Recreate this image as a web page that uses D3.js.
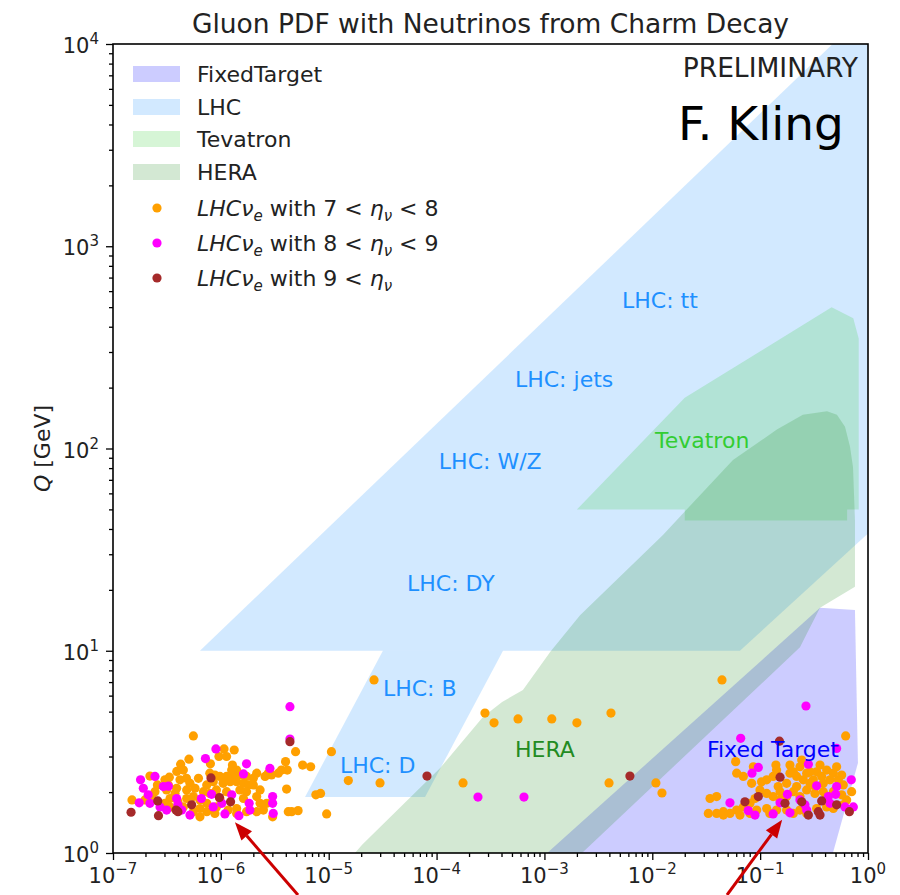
<!DOCTYPE html>
<html><head><meta charset="utf-8">
<script src="https://cdn.jsdelivr.net/npm/d3@7"></script>
<style>body{margin:0;background:#fff} svg{display:block} text{font-family:"DejaVu Sans",sans-serif}</style>
</head><body><svg id="c" width="900" height="895"></svg>
<script>
// ---------------- data ----------------
const X_DOMAIN = [1e-7, 1];
const Y_DOMAIN = [1, 1e4];
const xMajorExp = [-7, -6, -5, -4, -3, -2, -1, 0];
const yMajorExp = [0, 1, 2, 3, 4];
const title = "Gluon PDF with Neutrinos from Charm Decay";

// region polygons [x, Q]
const fixedTargetRegion = [[1.06e-3,1],[0.359,16.3],[0.757,15.9],[0.807,2.79],[0.473,1]];
const lhcRegion = [[6.4e-7,10],[0.47,1e4],[1,1e4],[1,38],[0.065,10]];
const lhcBDRegion = [[3.18e-5,10],[4.13e-4,10],[7.82e-5,1.89],[6.03e-6,1.89]];
const tevatronRegion = [[2.0e-3,50],[0.020,178],[0.46,500],[0.73,440],[0.82,350],[0.82,50],[0.64,50],[0.64,44],[0.020,44],[0.020,50]];
const heraRegion = [[1.75e-5,1],[2.04e-5,1.10],[1.08e-4,2.63],[2.69e-4,4.71],[4.05e-4,5.58],[6.32e-4,6.40],[1.13e-3,9.86],[2.14e-3,15.0],[0.01256,37.4],[0.056,87.8],[0.143,124],[0.249,147],[0.417,153],[0.515,147],[0.612,128],[0.681,102],[0.726,81],[0.757,44.3],[0.757,20.7],[0.359,16.3],[0.272,12.2],[0.234,10.4],[2.23e-3,1]];

// region labels [text, x, Q(baseline)]
const lhcLabels = [["LHC: tt",5.24e-3,496],["LHC: jets",5.33e-4,202],["LHC: W/Z",1.05e-4,79.3],["LHC: DY",5.32e-5,19.8],["LHC: B",3.18e-5,5.98],["LHC: D",1.27e-5,2.49]];
const heraLabel = ["HERA",5.33e-4,2.98];
const tevatronLabel = ["Tevatron",0.0106,101];
const fixedTargetLabel = ["Fixed Target",0.0321,2.98];

// LHCnu_e events, eta 7-8
const orangePts = [[5.56e-7,3.79],[1.07e-6,3.27],[1.33e-6,3.23],[9.6e-7,3.0],[1.13e-6,3.0],[5.06e-7,2.91],[4.24e-7,2.75],[8.0e-7,2.76],[1.28e-6,2.72],[1.40e-6,2.57],[5.73e-6,2.72],[6.8e-6,2.67],[4.93e-6,3.17],[3.98e-6,2.83],[3.65e-6,2.57],[4.13e-6,2.57],[3.41e-6,2.48],[2.15e-6,2.48],[2.57e-6,2.39],[2.95e-6,2.43],[2.0e-6,2.34],[1.73e-6,2.39],[1.50e-6,2.43],[1.30e-6,2.43],[1.13e-6,2.39],[9.8e-7,2.39],[8.8e-7,2.43],[6.2e-7,2.34],[4.8e-7,2.34],[3.9e-7,2.53],[3.33e-7,2.37],[3.03e-7,2.30],[2.2e-7,2.40],[2.58e-7,2.17],[3.14e-7,2.05],[3.89e-7,2.09],[4.82e-7,2.05],[5.76e-7,2.09],[7.4e-7,2.17],[8.5e-7,2.25],[1.05e-6,2.21],[1.22e-6,2.25],[1.40e-6,2.25],[1.62e-6,2.21],[2.0e-6,2.17],[2.31e-6,2.05],[1.50e-6,2.05],[1.13e-6,2.01],[9.1e-7,2.05],[6.9e-7,2.01],[5.56e-7,1.90],[4.82e-7,1.86],[3.38e-7,1.86],[2.45e-7,2.01],[1.5e-7,1.83],[1.98e-7,1.83],[2.28e-7,1.90],[3.76e-7,1.97],[6.4e-7,1.83],[7.4e-7,1.76],[9.1e-7,1.69],[1.40e-6,1.66],[1.62e-6,1.86],[2.15e-6,1.90],[2.31e-6,1.76],[2.66e-6,1.76],[2.48e-6,1.63],[2.15e-6,1.60],[1.73e-6,1.60],[1.40e-6,1.57],[1.17e-6,1.63],[8.8e-7,1.57],[7.4e-7,1.60],[6.4e-7,1.51],[6.4e-7,1.66],[5.56e-7,1.60],[4.49e-7,1.69],[3.38e-7,1.69],[3.03e-7,1.76],[4.22e-6,1.60],[5.2e-6,1.62],[4.53e-6,1.60],[4.07e-6,2.07],[3.02e-6,1.51],[9.57e-6,1.56],[7.6e-6,1.94],[8.4e-6,1.97],[1.06e-5,3.17],[1.52e-5,2.28],[7.9e-7,2.48],[4.49e-7,2.57],[4.18e-7,2.30],[3.26e-7,2.17],[5.17e-7,2.21],[1.26e-6,2.57],[1.8e-6,2.17],[2.75e-6,2.48],[7.9e-7,1.97],[1.73e-6,2.01],[9.8e-7,1.86],[4.0e-7,1.79],
[2.63e-5,7.17],[2.99e-5,2.22],[1.76e-4,2.22],[2.81e-4,4.92],[3.41e-4,4.40],[5.69e-4,4.6],[1.17e-3,4.6],[2.0e-3,4.40],[4.14e-3,4.92],[3.97e-3,2.22],[1.08e-2,2.22],[1.23e-2,1.98],[4.43e-2,7.17],
[0.621,3.79],[0.0593,2.83],[0.0606,2.48],[0.0698,2.39],[0.0834,2.21],[0.0865,2.67],[0.103,2.25],[0.115,2.30],[0.132,2.39],[0.140,2.72],[0.142,2.57],[0.147,2.13],[0.176,2.21],[0.189,2.48],[0.203,2.52],[0.218,2.39],[0.234,2.67],[0.243,2.88],[0.251,2.30],[0.270,2.48],[0.290,2.52],[0.311,2.30],[0.334,2.52],[0.359,2.72],[0.372,2.39],[0.385,2.21],[0.414,2.57],[0.444,2.30],[0.477,2.48],[0.512,2.67],[0.531,2.30],[0.570,2.43],[0.590,2.17],[0.477,2.01],[0.385,2.01],[0.322,1.97],[0.270,2.05],[0.234,1.90],[0.203,2.01],[0.176,1.90],[0.153,1.83],[0.132,1.90],[0.115,1.97],[0.0996,2.05],[0.0896,1.86],[0.0805,1.76],[0.0698,1.69],[0.0606,1.63],[0.0525,1.57],[0.0456,1.60],[0.0395,1.90],[0.0343,1.86],[0.0331,1.57],[0.0395,1.57],[0.0456,1.54],[0.065,1.54],[0.0805,1.57],[0.0929,1.63],[0.115,1.66],[0.123,1.57],[0.142,1.63],[0.176,1.63],[0.203,1.57],[0.234,1.63],[0.270,1.57],[0.334,1.66],[0.414,1.69],[0.477,1.66],[0.590,1.73],[0.634,1.83],[0.570,1.94],[0.705,2.01],[0.218,2.13],[0.189,2.72],[0.290,2.21],[0.153,2.01],[0.322,2.13],[0.414,1.90]];
// eta 8-9
const magentaPts = [[4.37e-6,5.29],[4.37e-6,3.66],[9.0e-7,3.27],[7.2e-7,2.93],[1.73e-6,2.76],[2.85e-6,2.62],[1.62e-6,2.46],[1.8e-7,2.30],[2.45e-7,2.39],[1.91e-7,2.09],[2.93e-7,2.13],[3.26e-7,2.14],[2.12e-7,1.94],[2.2e-7,1.76],[1.75e-7,1.77],[3.89e-7,1.86],[2.73e-7,1.69],[4.0e-7,1.73],[6.6e-7,1.86],[8.2e-7,1.95],[1.02e-6,1.76],[1.26e-6,1.94],[1.83e-6,1.76],[1.86e-6,1.63],[3.02e-6,1.90],[3.02e-6,1.76],[3.06e-6,1.57],[5.17e-7,1.54],[8.5e-7,1.69],[1.09e-6,1.56],[1.47e-6,1.53],[3.14e-7,1.63],[4.33e-7,1.63],
[2.42e-4,1.89],[6.46e-4,1.89],
[0.266,5.33],[0.066,3.69],[0.084,2.48],[0.0962,2.65],[0.280,2.75],[0.334,2.15],[0.512,2.13],[0.70,2.30],[0.179,1.95],[0.153,1.77],[0.189,1.58],[0.260,1.73],[0.501,1.95],[0.429,1.90],[0.612,1.69],[0.0525,1.77],[0.0776,1.62],[0.0896,1.54],[0.132,1.56],[0.234,1.83],[0.270,1.63],[0.731,1.69],[0.444,1.76],[0.512,3.29]];
// eta > 9
const brownPts = [[4.37e-6,3.55],[8.1e-7,2.35],[2.6e-7,1.81],[1.47e-7,1.59],[2.64e-7,1.53],[3.84e-7,1.63],[4.0e-7,1.60],[5.36e-7,1.73],[9.7e-7,1.88],[1.23e-6,1.79],
[8.15e-5,2.40],[6.2e-3,2.40],
[0.151,3.57],[0.153,2.37],[0.0962,1.90],[0.0723,1.79],[0.170,1.76],[0.243,1.79],[0.372,1.81],[0.346,1.60],[0.359,1.54],[0.512,1.73],[0.672,1.60],[0.280,1.54]];

// arrows: [tailX, tailQ, tipX, tipQ]
const arrows = [[5.19e-6,0.62,1.35e-6,1.42],[0.0493,0.62,0.16,1.46]];

// ---------------- drawing ----------------
const L=113,R=868,T=44,B=853;
const x=d3.scaleLog().domain(X_DOMAIN).range([L,R]);
const y=d3.scaleLog().domain(Y_DOMAIN).range([B,T]);
const svg=d3.select('#c');
svg.append('defs').append('clipPath').attr('id','clip').append('rect')
  .attr('x',L).attr('y',T).attr('width',R-L).attr('height',B-T);
const plot=svg.append('g').attr('clip-path','url(#clip)');
const line=d3.line().x(d=>x(d[0])).y(d=>y(d[1]));

const regions=[
  {name:"FixedTarget",pts:[fixedTargetRegion],color:"#0000ff"},
  {name:"LHC",pts:[lhcRegion,lhcBDRegion],color:"#1e90ff"},
  {name:"Tevatron",pts:[tevatronRegion],color:"#32cd32"},
  {name:"HERA",pts:[heraRegion],color:"#228b22"}];
regions.forEach(r=>{
  r.pts.forEach(p=>plot.append('path').attr('d',line(p)+'Z').attr('fill',r.color).attr('fill-opacity',0.2));
});

// labels
const lab=(t,c)=>plot.append('text').attr('x',x(t[1])).attr('y',y(t[2])).attr('fill',c).attr('font-size',22).text(t[0]);
lhcLabels.forEach(t=>lab(t,'#1e90ff'));
lab(heraLabel,'#228b22');
lab(tevatronLabel,'#32cd32');

// points
const pts=(data,col)=>plot.append('g').selectAll('circle').data(data).join('circle')
  .attr('cx',d=>x(d[0])).attr('cy',d=>y(d[1])).attr('r',4.6).attr('fill',col);
pts(orangePts,'#ffa000');
pts(magentaPts,'#ff00ff');
pts(brownPts,'#a52a2a');
lab(fixedTargetLabel,'#0000ff');

// axes
function minors(exps){const a=[];for(let i=0;i<exps.length-1;i++)for(let k=2;k<10;k++)a.push(k*Math.pow(10,exps[i]));return a;}
const xMaj=xMajorExp.map(e=>Math.pow(10,e)), yMaj=yMajorExp.map(e=>Math.pow(10,e));
const ax=svg.append('g');
ax.append('g').attr('transform',`translate(0,${B})`).call(d3.axisBottom(x).tickValues(minors(xMajorExp)).tickSize(4).tickFormat('')).call(g=>g.select('.domain').remove());
ax.append('g').attr('transform',`translate(0,${B})`).call(d3.axisBottom(x).tickValues(xMaj).tickSize(7).tickFormat('')).call(g=>g.select('.domain').remove());
ax.append('g').attr('transform',`translate(${L},0)`).call(d3.axisLeft(y).tickValues(minors(yMajorExp)).tickSize(4).tickFormat('')).call(g=>g.select('.domain').remove());
ax.append('g').attr('transform',`translate(${L},0)`).call(d3.axisLeft(y).tickValues(yMaj).tickSize(7).tickFormat('')).call(g=>g.select('.domain').remove());
ax.selectAll('.tick line').attr('stroke','#000').attr('stroke-width',1.3);
svg.append('rect').attr('x',L).attr('y',T).attr('width',R-L).attr('height',B-T).attr('fill','none').attr('stroke','#000').attr('stroke-width',1.6);

const sup=e=>(e<0?'\u2212':'')+Math.abs(e);
xMajorExp.forEach(e=>{
  const t=svg.append('text').attr('x',x(Math.pow(10,e))).attr('y',883).attr('text-anchor','middle').attr('font-size',21).attr('fill','#222');
  t.append('tspan').text('10');
  t.append('tspan').attr('dy',-9).attr('font-size',15).text(sup(e));
});
yMajorExp.forEach(e=>{
  const t=svg.append('text').attr('x',99).attr('y',y(Math.pow(10,e))+9).attr('text-anchor','end').attr('font-size',21).attr('fill','#222');
  t.append('tspan').text('10');
  t.append('tspan').attr('dy',-9).attr('font-size',15).text(sup(e));
});

// y label
const yl=svg.append('text').attr('transform',`translate(50,${(T+B)/2}) rotate(-90)`).attr('text-anchor','middle').attr('font-size',22).attr('fill','#222');
yl.append('tspan').attr('font-style','italic').text('Q');
yl.append('tspan').text(' [GeV]');

// title
svg.append('text').attr('x',(L+R)/2).attr('y',33).attr('text-anchor','middle').attr('font-size',26.5).attr('fill','#222').text(title);

// annotations
svg.append('text').attr('x',858).attr('y',77).attr('text-anchor','end').attr('font-size',26.5).attr('fill','#222').text('PRELIMINARY');
svg.append('text').attr('x',678).attr('y',140).attr('font-family','"Liberation Sans",Arial,sans-serif').attr('font-size',47).attr('fill','#000').text('F. Kling');

// legend
const legend=svg.append('g');
const rowsP=[74,107,139,172];
regions.forEach((r,i)=>{
  legend.append('rect').attr('x',133).attr('y',rowsP[i]-8).attr('width',47).attr('height',16).attr('fill',r.color).attr('fill-opacity',0.2);
  legend.append('text').attr('x',197).attr('y',rowsP[i]+8).attr('font-size',22).attr('fill','#222').text(r.name);
});
const rowsS=[208,243,278];
const sLabels=[['7','8'],['8','9'],['9',null]];
const sCols=['#ffa000','#ff00ff','#a52a2a'];
sLabels.forEach((s,i)=>{
  legend.append('circle').attr('cx',157).attr('cy',rowsS[i]).attr('r',4.6).attr('fill',sCols[i]);
  const t=legend.append('text').attr('x',197).attr('y',rowsS[i]+8).attr('font-size',22).attr('fill','#222');
  t.append('tspan').attr('font-style','italic').text('LHC\u03bd');
  t.append('tspan').attr('font-style','italic').attr('font-size',15).attr('dy',5).text('e');
  t.append('tspan').attr('dy',-5).text(' with '+s[0]+' < ');
  t.append('tspan').attr('font-style','italic').text('\u03b7');
  t.append('tspan').attr('font-style','italic').attr('font-size',15).attr('dy',5).text('\u03bd');
  if(s[1]) t.append('tspan').attr('dy',-5).text(' < '+s[1]);
});

// arrows
arrows.forEach(a=>{
  const x0=x(a[0]),y0=y(a[1]),x1=x(a[2]),y1=y(a[3]);
  const ang=Math.atan2(y1-y0,x1-x0), hl=18, hw=7;
  const bx=x1-hl*Math.cos(ang), by=y1-hl*Math.sin(ang);
  svg.append('line').attr('x1',x0).attr('y1',y0).attr('x2',bx).attr('y2',by).attr('stroke','#cc0000').attr('stroke-width',3);
  const px=-Math.sin(ang)*hw, py=Math.cos(ang)*hw;
  svg.append('path').attr('d',`M${x1},${y1}L${bx+px},${by+py}L${bx-px},${by-py}Z`).attr('fill','#cc0000');
});
</script></body></html>
